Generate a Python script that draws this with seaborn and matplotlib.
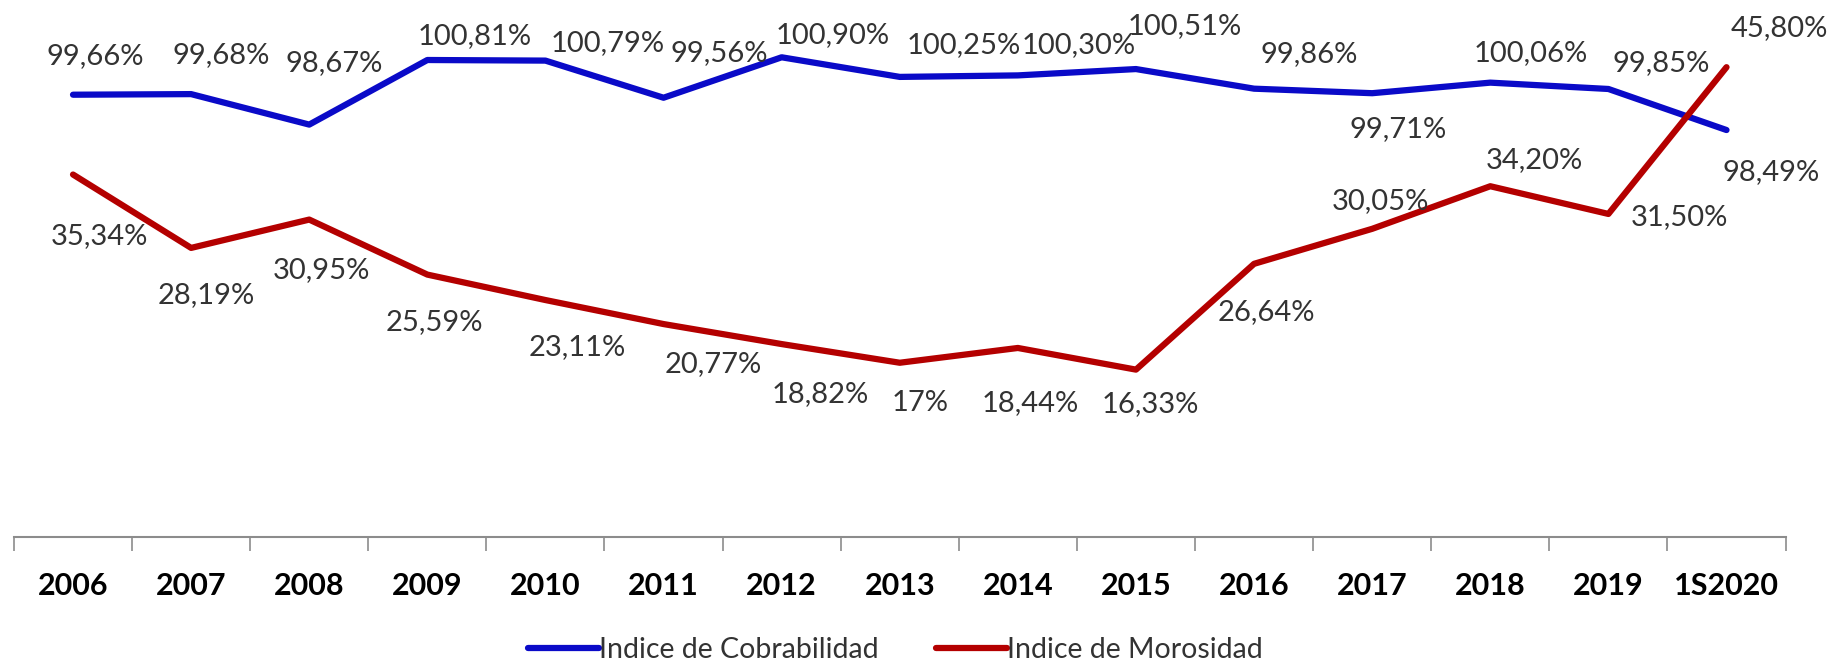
import numpy as np
import pandas as pd
import matplotlib
matplotlib.use("Agg")
import matplotlib.pyplot as plt
import seaborn as sns

# data
years = ['2006', '2007', '2008', '2009', '2010', '2011', '2012', '2013',
         '2014', '2015', '2016', '2017', '2018', '2019', '1S2020']
cobrabilidad = [99.66, 99.68, 98.67, 100.81, 100.79, 99.56, 100.90, 100.25,
                100.30, 100.51, 99.86, 99.71, 100.06, 99.85, 98.49]
morosidad = [35.34, 28.19, 30.95, 25.59, 23.11, 20.77, 18.82, 17.00,
             18.44, 16.33, 26.64, 30.05, 34.20, 31.50, 45.80]

# label offsets in points (dx, dy)
off_cob = [(16, 28), (22, 28), (18, 44), (34, 17), (45, 13), (40, 32), (37, 16), (46, 23),
           (44, 22), (35, 31), (40, 25), (19, -26), (29, 21), (38, 19), (32, -30)]
off_mor = [(19, -44), (11, -34), (9, -36), (5, -34), (23, -34), (36, -29), (28, -36), (15, -29),
           (9, -40), (10, -25), (9, -35), (6, 20), (32, 19), (51, -2), (38, 28)]

BLUE = '#0a0ac8'
RED = '#b40000'

def fmt(v):
    if float(v).is_integer():
        return '%d%%' % v
    return ('%.2f%%' % v).replace('.', ',')

sns.set_style("white")
plt.rcParams['font.family'] = ['Lato', 'DejaVu Sans']

df = pd.DataFrame({'x': np.arange(len(years)), 'cob': cobrabilidad, 'mor': morosidad})

fig = plt.figure(figsize=(18.37, 6.69), dpi=100)
ax = fig.add_axes([0.0076, 0.197, 0.9644, 0.767])
ax2 = ax.twinx()

sns.lineplot(data=df, x='x', y='cob', ax=ax, color=BLUE, lw=4.5,
             label='Indice de Cobrabilidad', legend=False)
sns.lineplot(data=df, x='x', y='mor', ax=ax2, color=RED, lw=4.5,
             label='Indice de Morosidad', legend=False)

ax.set_ylim(85, 102)
ax2.set_ylim(0, 50)
ax.set_xlim(-0.5, len(years) - 0.5)

for i, v in enumerate(cobrabilidad):
    ax.annotate(fmt(v), (i, v), xytext=off_cob[i], textcoords='offset points',
                ha='center', va='center', fontsize=21, color='#333333')
for i, v in enumerate(morosidad):
    ax2.annotate(fmt(v), (i, v), xytext=off_mor[i], textcoords='offset points',
                 ha='center', va='center', fontsize=21, color='#333333')

# axes cosmetics
for a in (ax, ax2):
    for s in ['top', 'left', 'right']:
        a.spines[s].set_visible(False)
    a.set_yticks([])
    a.set_ylabel('')
    a.set_xlabel('')
ax2.spines['bottom'].set_visible(False)
ax.spines['bottom'].set_color('#8c8c8c')
ax.spines['bottom'].set_linewidth(1.5)

ax.set_xticks(np.arange(-0.5, len(years)))
ax.set_xticklabels([])
ax.tick_params(axis='x', which='major', direction='out', length=10, width=1.2,
               color='#8c8c8c', bottom=True)
ax.set_xticks(np.arange(len(years)), minor=True)
ax.set_xticklabels(years, minor=True, fontsize=22, fontweight='bold', color='black')
ax.tick_params(axis='x', which='minor', length=0, pad=25)

h1, l1 = ax.get_legend_handles_labels()
h2, l2 = ax2.get_legend_handles_labels()
leg = fig.legend(h1 + h2, l1 + l2, loc='center', bbox_to_anchor=(0.4875, 0.028), ncol=2,
                 frameon=False, fontsize=20.5, handlelength=2.5, handletextpad=0.0,
                 columnspacing=2.0)
for t in leg.get_texts():
    t.set_color('#333333')

fig.savefig('out.png', dpi=100)
